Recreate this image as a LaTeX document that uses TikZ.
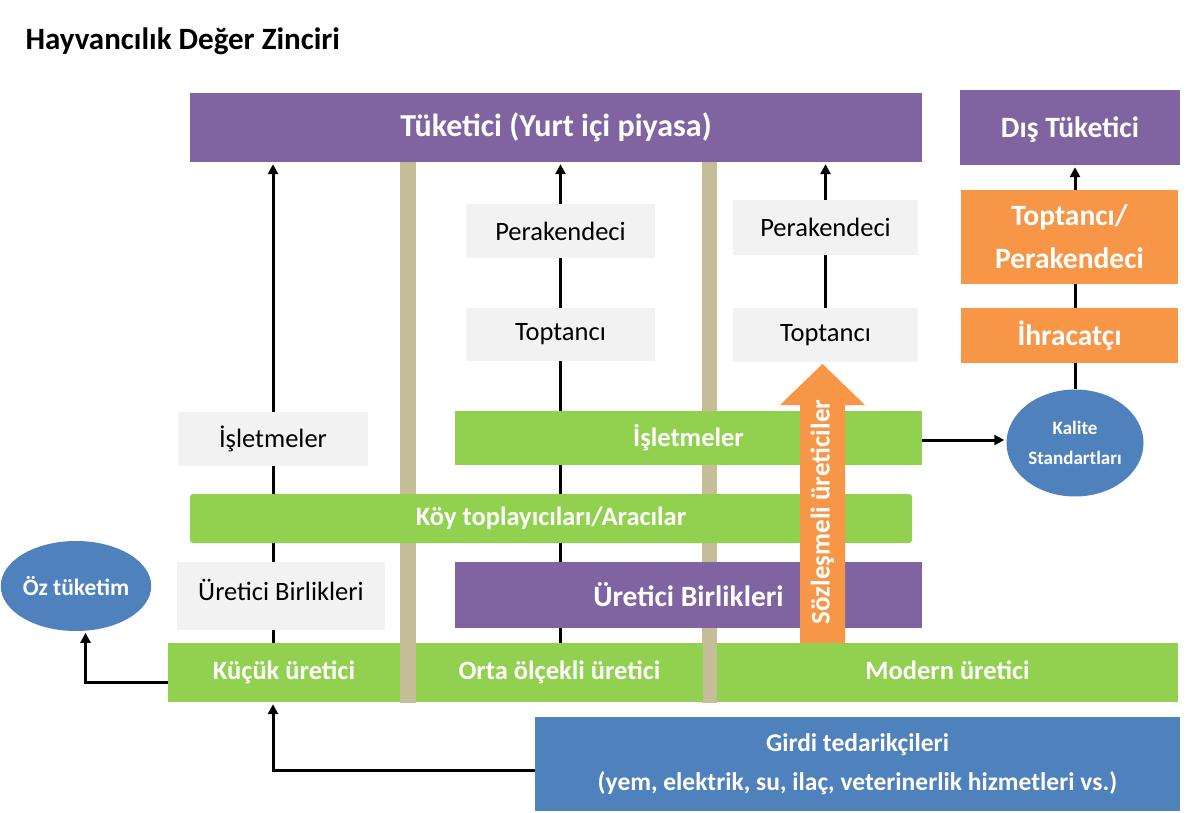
\documentclass[tikz,border=0pt]{standalone}
\usepackage{fontspec}
\setmainfont{Carlito}
\usetikzlibrary{arrows.meta,backgrounds,calc,shapes.geometric}
\definecolor{purp}{HTML}{8064A2}
\definecolor{grn}{HTML}{92D050}
\definecolor{orng}{HTML}{F79646}
\definecolor{blu}{HTML}{4F81BD}
\definecolor{grayb}{HTML}{F2F2F2}
\definecolor{beige}{HTML}{C4BD97}
\begin{document}
\begin{tikzpicture}[x=1pt,y=-1pt,
  cbox/.style={rectangle, inner sep=0pt, align=center, text=white, font=\bfseries\fontsize{26.5}{36}\selectfont},
  bigtxt/.style={font=\bfseries\fontsize{29.5}{43}\selectfont},
  gbox/.style={rectangle, fill=grayb, inner sep=0pt, align=center, text=black, font=\fontsize{26.5}{30}\selectfont},
  oval/.style={ellipse, fill=blu, inner sep=0pt, align=center, text=white},
  arr/.style={line width=3pt, -{Triangle[width=10pt,length=10pt]}, shorten >=2pt},
  ln/.style={line width=3pt},
  bar/.style={fill=beige}
]
\useasboundingbox (0,0) rectangle (1192,813);

\node[anchor=west, font=\bfseries\fontsize{31}{36}\selectfont] (title) at (22,41) {Hayvancılık Değer Zinciri};

% top row
\node[cbox, fill=purp, minimum width=732, minimum height=69, font=\bfseries\fontsize{32}{36}\selectfont] (tuk) at (556,127.5) {Tüketici (Yurt içi piyasa)};
\node[cbox, bigtxt, fill=purp, minimum width=220, minimum height=75, text depth=0pt] (dis) at (1070,127.5) {Dış Tüketici};
\node[cbox, bigtxt, fill=orng, minimum width=217, minimum height=94] (tp) at (1069.5,237) {Toptancı/\\Perakendeci};
\node[cbox, bigtxt, fill=orng, minimum width=217, minimum height=55] (ihr) at (1069.5,335.5) {İhracatçı};
\node[oval, minimum width=137, minimum height=107, font=\bfseries\fontsize{19}{30}\selectfont] (kal) at (1075,443) {Kalite\\Standartları};

% gray boxes
\node[gbox, minimum width=189, minimum height=54] (gper1) at (560.5,231) {Perakendeci};
\node[gbox, minimum width=189, minimum height=53] (gtop1) at (560.5,334.5) {Toptancı};
\node[gbox, minimum width=185, minimum height=55] (gper2) at (825.5,227.5) {Perakendeci};
\node[gbox, minimum width=185, minimum height=54] (gtop2) at (825.5,335) {Toptancı};
\node[gbox, minimum width=190, minimum height=54] (gisl) at (273,439) {İşletmeler};
\node[gbox, minimum width=208, minimum height=68, text depth=12pt] (gub) at (281,596) {Üretici Birlikleri};

% middle coloured boxes
\node[cbox, fill=grn, minimum width=467, minimum height=54] (isl) at (688.5,438) {İşletmeler};
\node[cbox, fill=grn, minimum width=722, minimum height=49, rounded corners=3pt] (koy) at (551,518.5) {Köy toplayıcıları/Aracılar};
\node[cbox, bigtxt, fill=purp, minimum width=467, minimum height=66] (ub) at (688.5,595) {Üretici Birlikleri};

% producers
\node[cbox, fill=grn, minimum width=232, minimum height=59] (kucuk) at (284,672.5) {Küçük üretici};
\node[cbox, fill=grn, minimum width=287, minimum height=59] (orta) at (559.5,672.5) {Orta ölçekli üretici};
\node[cbox, fill=grn, minimum width=461, minimum height=59, text depth=5.5pt] (modern) at (947.5,672.5) {Modern üretici};

\node[cbox, fill=blu, minimum width=645, minimum height=94, font=\bfseries\fontsize{25.5}{39}\selectfont] (girdi) at (857.5,764) {Girdi tedarikçileri\\(yem, elektrik, su, ilaç, veterinerlik hizmetleri vs.)};
\node[oval, minimum width=132, minimum height=90, font=\bfseries\fontsize{23.5}{26}\selectfont] (oz) at (76,586) {Öz tüketim};

% contract producers arrow
\fill[orng] (800,643) -- (800,405) -- (780,405) -- (822.5,364) -- (865,405) -- (845,405) -- (845,643) -- cycle;
\node[rotate=90, text=white, font=\bfseries\fontsize{27}{30}\selectfont] (soz) at (822.5,512) {Sözleşmeli üreticiler};

\begin{pgfonlayer}{background}
  \fill[white] (0,0) rectangle (1192,813);
  \fill[bar] (400,162) rectangle (416,703);
  \fill[bar] (702,162) rectangle (717,703);
  \draw[arr] (gisl.center |- kucuk.north) -- (gisl.center |- tuk.south);
  \draw[arr] (gper1.center |- orta.north) -- (gper1.center |- tuk.south);
  \draw[arr] (gtop2.north) -- (gper2.center |- tuk.south);
  \draw[ln] (kal.north) -- (kal.north |- ihr.south);
  \draw[ln] (kal.north |- ihr.north) -- (kal.north |- tp.south);
\end{pgfonlayer}
\draw[arr] (kal.north |- tp.north) -- (kal.north |- dis.south);
\draw[arr] ([yshift=-2pt]isl.east) -- ([yshift=-2pt]isl.east -| kal.west);
\draw[arr] ([yshift=-10pt]kucuk.west) -| (oz.-78);
\draw[arr] ([yshift=-6pt]girdi.west) -| (gisl.center |- kucuk.south);
\end{tikzpicture}
\end{document}
